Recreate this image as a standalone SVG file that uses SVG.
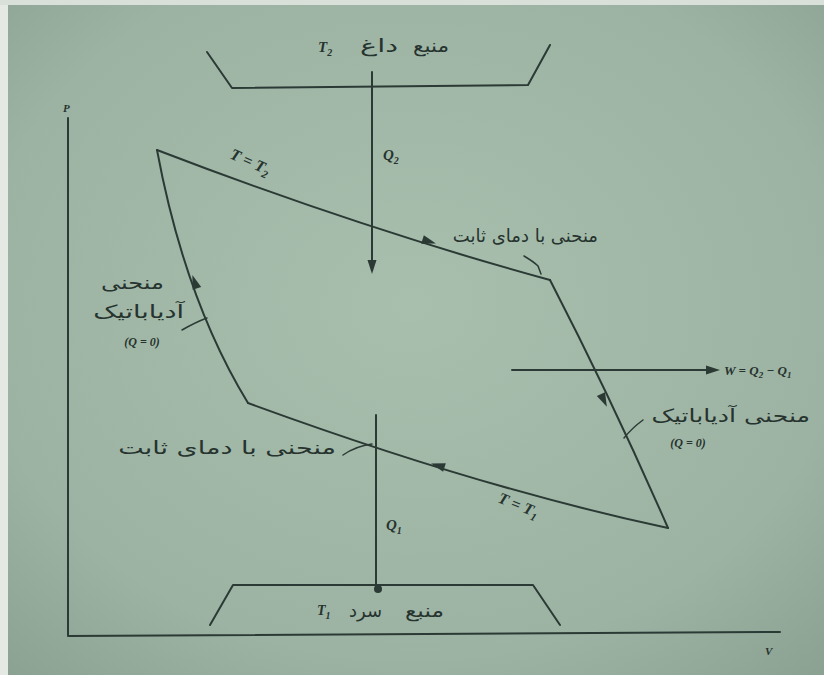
<svg xmlns="http://www.w3.org/2000/svg" width="824" height="675" viewBox="0 0 824 675">
<defs>
<radialGradient id="bg" cx="0.5" cy="0.45" r="0.75">
<stop offset="0" stop-color="#a8bfae"/>
<stop offset="0.7" stop-color="#9cb3a3"/>
<stop offset="1" stop-color="#8aa090"/>
</radialGradient>
<path id="ah" d="M2,0 L-12,-4.5 L-12,4.5 Z"/>
<style>
.ln{fill:none;stroke:#2b3a34;stroke-width:2;stroke-linecap:round;stroke-linejoin:round}
.thin{fill:none;stroke:#2b3a34;stroke-width:1.5;stroke-linecap:round}
.ah{fill:#2b3a34}
.fa{font-family:"DejaVu Sans",sans-serif;fill:#26332e;font-size:18px;text-anchor:end}
.it{font-family:"Liberation Serif",serif;font-style:italic;font-weight:bold;fill:#26332e}
</style>
</defs>
<rect x="0" y="0" width="824" height="675" fill="url(#bg)"/>
<rect x="0" y="0" width="8" height="675" fill="#e4e9e4"/>
<rect x="0" y="0" width="824" height="5" fill="#d9e0da"/>

<g id="axes">
<path class="ln" d="M68,118 L68,636 L780,632"/>
<text class="it" x="63" y="112" font-size="11">P</text>
<text class="it" x="765" y="655" font-size="11">V</text>
</g>

<g id="hot-reservoir">
<path class="ln" d="M207,52 L232,88 L528,85 L550,45"/>
<text class="fa" font-size="17" transform="translate(449,52) scale(1.2,1)">منبع</text>
<text class="fa" font-size="17" transform="translate(398,52) scale(1.6,1)">داغ</text>
<text class="it" x="318" y="52" font-size="15">T<tspan font-size="10" dy="4">2</tspan></text>
</g>

<g id="cold-reservoir">
<path class="ln" d="M210,625 L233,585 L533,585 L560,625"/>
<text class="fa" font-size="16" transform="translate(444,617) scale(1.3,1)">منبع</text>
<text class="fa" font-size="16" transform="translate(382,617)">سرد</text>
<text class="it" x="317" y="615" font-size="14">T<tspan font-size="10" dy="4">1</tspan></text>
</g>

<g id="connectors">
<path class="ln" d="M157,150 Q360,228 550,280"/>
<path class="ln" d="M550,280 Q612,400 668,528"/>
<path class="ln" d="M668,528 Q480,488 248,403"/>
<path class="ln" d="M248,403 Q185,300 157,150"/>
<path class="ln" d="M372,72 L372,262"/>
<path class="ln" d="M376,415 L376,588"/>
<circle class="ah" cx="378" cy="589" r="4"/>
<path class="ln" d="M512,370 L708,370"/>
<use href="#ah" class="ah" transform="translate(372,272) rotate(90)"/>
<use href="#ah" class="ah" transform="translate(718,370)"/>
<use href="#ah" class="ah" transform="translate(434,243) rotate(17)"/>
<use href="#ah" class="ah" transform="translate(606,405) rotate(65)"/>
<use href="#ah" class="ah" transform="translate(433,464) rotate(197)"/>
<use href="#ah" class="ah" transform="translate(193,277) rotate(-109)"/>
<path class="thin" d="M524,256 Q534,262 538,266 L541,274"/>
<path class="thin" d="M182,330 Q196,322 207,318"/>
<path class="thin" d="M643,420 Q632,428 624,438"/>
<path class="thin" d="M343,455 Q356,446 372,444"/>
</g>

<g id="label-Q2"><text class="it" x="383" y="160" font-size="15">Q<tspan font-size="10" dy="4">2</tspan></text></g>
<g id="label-Q1"><text class="it" x="386" y="530" font-size="15">Q<tspan font-size="10" dy="4">1</tspan></text></g>
<g id="label-W"><text class="it" x="724" y="375" font-size="13">W = Q<tspan font-size="9" dy="3">2</tspan><tspan dy="-3"> − Q</tspan><tspan font-size="9" dy="3">1</tspan></text></g>
<g id="label-T2"><text class="it" x="229" y="158" font-size="16" transform="rotate(24 229 158)">T = T<tspan font-size="11" dy="4">2</tspan></text></g>
<g id="label-T1"><text class="it" x="497" y="502" font-size="16" transform="rotate(22 497 502)">T = T<tspan font-size="11" dy="4">1</tspan></text></g>

<g id="label-isotherm-hot"><text class="fa" transform="translate(598,242)">منحنی با دمای ثابت</text></g>
<g id="label-adiabat-left">
<text class="fa" transform="translate(164,289) scale(1.34,1)">منحنی</text>
<text class="fa" transform="translate(184,318) scale(1.5,1)">آدیاباتیک</text>
<text class="it" x="142" y="346" font-size="12" text-anchor="middle">(Q = 0)</text>
</g>
<g id="label-adiabat-right">
<text class="fa" font-size="19" transform="translate(810,422) scale(1.4,1)">منحنی آدیاباتیک</text>
<text class="it" x="688" y="447" font-size="12" text-anchor="middle">(Q = 0)</text>
</g>
<g id="label-isotherm-cold"><text class="fa" font-size="20" transform="translate(336,454) scale(1.5,1)">منحنی با دمای ثابت</text></g>
</svg>
